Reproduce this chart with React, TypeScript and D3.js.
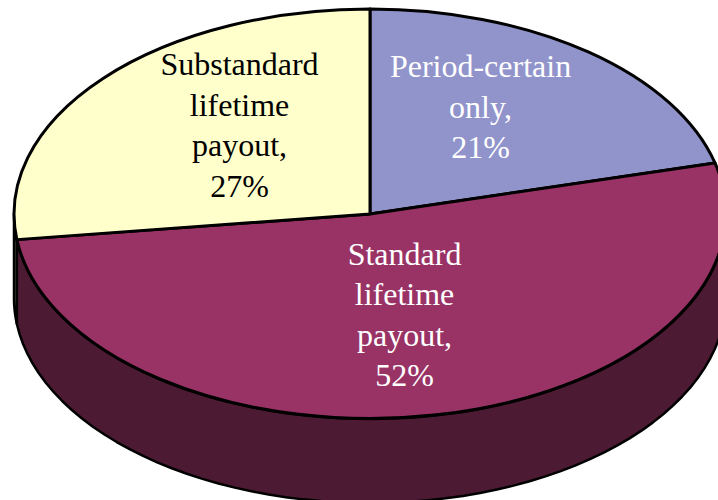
import * as d3 from 'd3'

const CATEGORIES = ['Period-certain only', 'Standard lifetime payout', 'Substandard lifetime payout']
const VALUES = [21, 52, 27]
const TOPS = ['#9194CB', '#993366', '#FFFFCC']
const SIDES = ['#4A4C66', '#4D1A33', '#808066']
const LABELS = [
  ['Period-certain', 'only,', '21%'],
  ['Standard', 'lifetime', 'payout,', '52%'],
  ['Substandard', 'lifetime', 'payout,', '27%'],
]
const LABEL_COLORS = ['#fff', '#fff', '#000']

const W = 718
const H = 500
const CX = 370
const CY = 214
const RX = 356
const RY = 205
const DEPTH = 84
const FONT_SIZE = 32
const LINE_H = 40.5
const LABEL_POS = [
  { x: 480.5, y: 77 },
  { x: 404.5, y: 264.5 },
  { x: 239.5, y: 75 },
]

const slices = d3.pie<number>().sort(null).startAngle(0).endAngle(2 * Math.PI)(VALUES)
const topArc = d3.arc<d3.PieArcDatum<number>>().innerRadius(0).outerRadius(1)

const px = (a: number) => CX + RX * Math.sin(a)
const py = (a: number) => CY - RY * Math.cos(a)

// side wall is only visible on the front half of the ellipse
function sidePath(d: d3.PieArcDatum<number>) {
  const a0 = Math.max(d.startAngle, Math.PI / 2)
  const a1 = Math.min(d.endAngle, (3 * Math.PI) / 2)
  if (a1 <= a0) return null
  const angles = d3.range(0, 61).map(i => a0 + ((a1 - a0) * i) / 60)
  return d3.area<number>().x(px).y0(py).y1(a => py(a) + DEPTH)(angles)
}

export default function App() {
  return (
    <svg
      width={W}
      height={H}
      viewBox={`0 0 ${W} ${H}`}
      style={{ position: 'absolute', left: 0, top: 0, background: '#fff' }}
      role="img"
      aria-label={CATEGORIES.join(', ')}
    >
      <g stroke="#000" strokeWidth={2.5} strokeLinejoin="round">
        {slices.map((d, i) => {
          const p = sidePath(d)
          return p ? <path key={i} d={p} fill={SIDES[i]} /> : null
        })}
      </g>
      <g transform={`translate(${CX},${CY}) scale(${RX},${RY})`}>
        {slices.map((d, i) => (
          <path
            key={i}
            d={topArc(d) as string}
            fill={TOPS[i]}
            stroke="#000"
            strokeWidth={3}
            strokeLinejoin="round"
            vectorEffect="non-scaling-stroke"
          />
        ))}
      </g>
      <g fontFamily='"Liberation Serif", serif' fontSize={FONT_SIZE} textAnchor="middle">
        {LABELS.map((lines, i) => (
          <text key={i} fill={LABEL_COLORS[i]}>
            {lines.map((t, j) => (
              <tspan key={j} x={LABEL_POS[i].x} y={LABEL_POS[i].y + j * LINE_H}>
                {t}
              </tspan>
            ))}
          </text>
        ))}
      </g>
    </svg>
  )
}
